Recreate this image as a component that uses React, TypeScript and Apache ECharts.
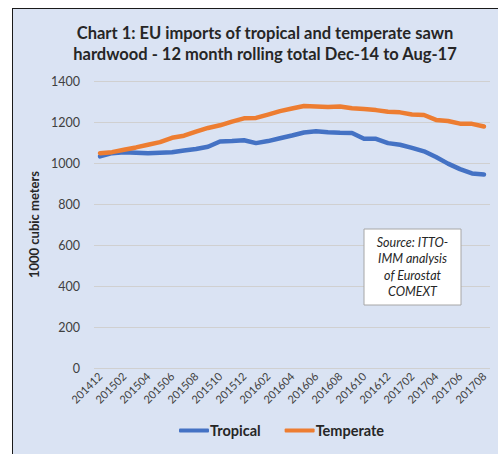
import React, { useEffect, useRef } from "react";
import * as echarts from "echarts";

const categories = [
  "201412","201501","201502","201503","201504","201505","201506","201507","201508","201509","201510","201511",
  "201512","201601","201602","201603","201604","201605","201606","201607","201608","201609","201610","201611",
  "201612","201701","201702","201703","201704","201705","201706","201707","201708",
];
const tropical = [1032,1048,1053,1050,1048,1050,1052,1061,1068,1079,1105,1107,1111,1097,1107,1121,1134,1149,1155,1150,1147,1146,1118,1118,1097,1089,1074,1057,1029,997,970,949,944];
const temperate = [1048,1053,1065,1076,1089,1102,1123,1133,1153,1171,1184,1202,1218,1220,1236,1253,1266,1278,1276,1273,1276,1267,1263,1258,1250,1247,1237,1234,1210,1205,1192,1191,1178];
const titleLines = ["Chart 1: EU imports of tropical and temperate sawn", "hardwood - 12 month rolling total Dec-14 to Aug-17"];
const yAxisName = "1000 cubic meters";
const sourceNote = "Source: ITTO-\nIMM analysis\nof Eurostat\nCOMEXT";

const FONT = "Lato, 'Noto Sans', sans-serif";

export default function App() {
  const ref = useRef<HTMLDivElement>(null);
  useEffect(() => {
    const chart = echarts.init(ref.current!, null, { renderer: "svg" });
    chart.setOption({
      animation: false,
      backgroundColor: "transparent",
      textStyle: { fontFamily: FONT },
      title: {
        text: titleLines.join("\n"),
        left: 260,
        textAlign: "center",
        top: 17,
        textStyle: { fontFamily: FONT, fontSize: 16.5, fontWeight: "bold", color: "#262626", lineHeight: 21 },
      },
      grid: { left: 94, right: 8, top: 81, bottom: 86, containLabel: false },
      legend: {
        bottom: 11,
        left: 174,
        itemWidth: 30,
        itemHeight: 4,
        itemGap: 24,
        icon: "roundRect",
        textStyle: { fontFamily: FONT, fontSize: 14.5, fontWeight: "bold", color: "#262626", padding: [0, 0, 0, -4] },
        data: ["Tropical", "Temperate"],
      },
      xAxis: {
        type: "category",
        data: categories,
        boundaryGap: true,
        axisLine: { show: false },
        axisTick: { show: false },
        axisLabel: {
          interval: 1,
          rotate: 45,
          margin: 6,
          fontFamily: FONT,
          fontSize: 11,
          color: "#404040",
        },
      },
      yAxis: {
        type: "value",
        min: 0,
        max: 1400,
        interval: 200,
        name: yAxisName,
        nameLocation: "middle",
        nameGap: 42,
        nameTextStyle: { fontFamily: FONT, fontSize: 13, fontWeight: "bold", color: "#262626" },
        axisLine: { show: false },
        axisTick: { show: false },
        axisLabel: { fontFamily: FONT, fontSize: 12.5, color: "#404040", margin: 14, formatter: (v: number) => String(v) },
        splitLine: { lineStyle: { color: "#d0d0d0", width: 1 } },
      },
      series: [
        {
          name: "Tropical",
          type: "line",
          data: tropical,
          showSymbol: false,
          symbol: "none",
          lineStyle: { color: "#4472c4", width: 4.5, cap: "round", join: "round" },
          itemStyle: { color: "#4472c4" },
        },
        {
          name: "Temperate",
          type: "line",
          data: temperate,
          showSymbol: false,
          symbol: "none",
          lineStyle: { color: "#ed7d31", width: 4.5, cap: "round", join: "round" },
          itemStyle: { color: "#ed7d31" },
        },
      ],
      graphic: [
        {
          type: "rect",
          shape: { x: 364, y: 229, width: 97, height: 76 },
          style: { fill: "#ffffff", stroke: "#a6a6a6", lineWidth: 1 },
          z: 10,
        },
        {
          type: "text",
          x: 412.5,
          y: 267,
          style: {
            text: sourceNote,
            fontFamily: FONT,
            fontSize: 12.5,
            fontStyle: "italic",
            fill: "#262626",
            align: "center",
            verticalAlign: "middle",
            lineHeight: 16.5,
          },
          z: 11,
        },
      ],
    });
    return () => chart.dispose();
  }, []);
  return (
    <div style={{ position: "fixed", left: 0, top: 0, width: 498, height: 454, background: "#ffffff", overflow: "hidden" }}>
      <div
        style={{
          position: "absolute",
          left: 12,
          top: 8,
          width: 500,
          height: 460,
          background: "#dae3f3",
          borderLeft: "1.5px solid #1a1a1a",
          borderTop: "1.5px solid #1a1a1a",
        }}
      />
      <div ref={ref} style={{ position: "absolute", left: 0, top: 0, width: 498, height: 454 }} />
    </div>
  );
}
